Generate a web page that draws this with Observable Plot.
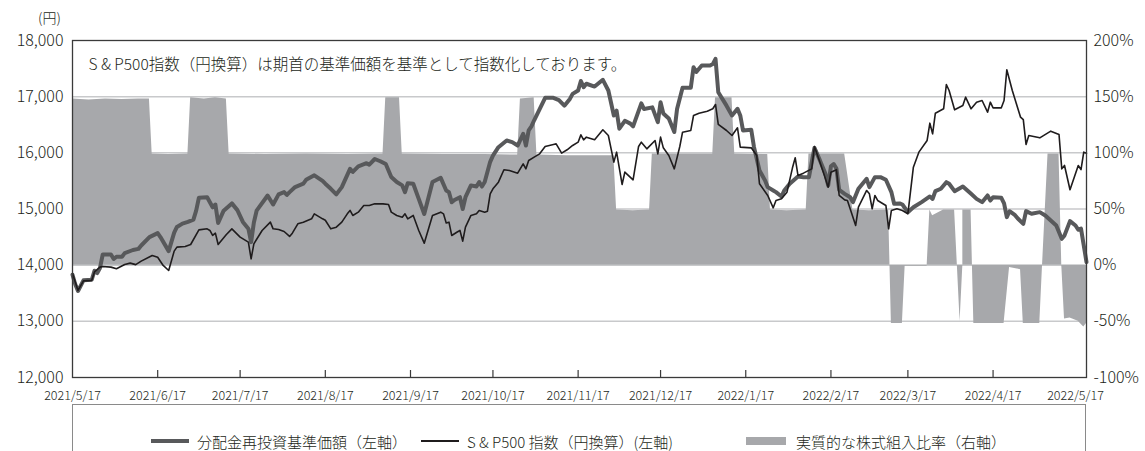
<!DOCTYPE html>
<html><head><meta charset="utf-8">
<script src="https://cdn.jsdelivr.net/npm/d3@7"></script>
<script src="https://cdn.jsdelivr.net/npm/@observablehq/plot@0.6"></script>
<style>
body{margin:0;background:#fff;font-family:"Noto Sans CJK JP","Noto Sans",sans-serif;color:#231f20;font-weight:300;}
#wrap{position:relative;width:1145px;height:451px;overflow:hidden;}
#chart{position:absolute;left:0;top:0;}
#legend{position:absolute;left:72px;top:404px;width:1014px;height:80px;border:1.5px solid #8a8a8a;box-sizing:border-box;background:#fff;}
.item{position:absolute;top:25px;height:22px;display:flex;align-items:center;font-size:15px;white-space:nowrap;}
.sw{display:inline-block;margin-right:8px;}
</style></head><body><div id="wrap"><div id="chart"></div><div id="legend"></div></div>
<script>
// 分配金再投資基準価額（左軸）
const nav = [
["2021-05-17",13830],["2021-05-18",13660],["2021-05-19",13540],["2021-05-21",13730],["2021-05-24",13740],["2021-05-25",13900],["2021-05-26",13860],["2021-05-27",13950],["2021-05-28",14190],["2021-05-31",14190],
["2021-06-01",14110],["2021-06-02",14150],["2021-06-04",14150],["2021-06-05",14215],["2021-06-08",14270],["2021-06-10",14290],["2021-06-11",14350],["2021-06-14",14500],["2021-06-17",14570],["2021-06-18",14500],["2021-06-21",14250],["2021-06-23",14580],["2021-06-24",14680],["2021-06-26",14740],["2021-06-28",14770],["2021-06-30",14810],
["2021-07-01",14970],["2021-07-02",15200],["2021-07-05",15210],["2021-07-07",15030],["2021-07-08",15080],["2021-07-09",14750],["2021-07-11",14970],["2021-07-14",15100],["2021-07-16",14980],["2021-07-18",14770],["2021-07-20",14650],["2021-07-21",14410],["2021-07-22",14760],["2021-07-23",14970],["2021-07-27",15240],["2021-07-29",15080],["2021-07-31",15260],
["2021-08-02",15300],["2021-08-03",15250],["2021-08-04",15300],["2021-08-06",15390],["2021-08-09",15450],["2021-08-10",15520],["2021-08-13",15600],["2021-08-16",15500],["2021-08-17",15450],["2021-08-19",15360],["2021-08-21",15260],["2021-08-23",15390],["2021-08-26",15715],["2021-08-27",15660],["2021-08-29",15760],
["2021-09-01",15815],["2021-09-02",15790],["2021-09-04",15890],["2021-09-06",15850],["2021-09-08",15800],["2021-09-10",15570],["2021-09-12",15480],["2021-09-14",15420],["2021-09-15",15300],["2021-09-16",15460],["2021-09-18",15450],["2021-09-20",15180],["2021-09-22",14910],["2021-09-25",15480],["2021-09-28",15555],["2021-09-30",15330],
["2021-10-01",15300],["2021-10-02",15120],["2021-10-03",15160],["2021-10-05",15210],["2021-10-06",15000],["2021-10-07",15210],["2021-10-09",15420],["2021-10-11",15400],["2021-10-12",15480],["2021-10-13",15400],["2021-10-14",15480],["2021-10-16",15840],["2021-10-17",15950],["2021-10-19",16100],["2021-10-22",16220],["2021-10-24",16190],["2021-10-26",16130],["2021-10-28",16340],["2021-10-29",16130],["2021-10-30",16400],["2021-10-31",16470],
["2021-11-01",16580],["2021-11-03",16780],["2021-11-05",16980],["2021-11-08",16980],["2021-11-10",16940],["2021-11-12",16840],["2021-11-14",16960],["2021-11-15",17050],["2021-11-17",17110],["2021-11-18",17280],["2021-11-19",17170],["2021-11-20",17230],["2021-11-23",17180],["2021-11-26",17300],["2021-11-28",17110],["2021-11-30",16665],
["2021-12-01",16750],["2021-12-02",16430],["2021-12-04",16570],["2021-12-06",16520],["2021-12-07",16470],["2021-12-10",16880],["2021-12-11",16780],["2021-12-14",16810],["2021-12-16",16546],["2021-12-17",16900],["2021-12-18",16700],["2021-12-20",16610],["2021-12-22",16370],["2021-12-23",16780],["2021-12-25",17157],["2021-12-28",17157],["2021-12-29",17525],["2021-12-30",17440],
["2022-01-01",17555],["2022-01-04",17555],["2022-01-05",17580],["2022-01-06",17674],["2022-01-07",17080],["2022-01-10",16840],["2022-01-12",16665],["2022-01-14",16784],["2022-01-15",16665],["2022-01-16",16398],["2022-01-19",16410],["2022-01-20",16101],["2022-01-22",15686],["2022-01-24",15510],["2022-01-25",15389],["2022-01-27",15330],["2022-01-28",15300],["2022-01-30",15223],["2022-01-31",15330],
["2022-02-02",15448],["2022-02-05",15579],["2022-02-07",15567],["2022-02-09",15567],["2022-02-11",16089],["2022-02-13",15865],["2022-02-15",15626],["2022-02-16",15419],["2022-02-17",15760],["2022-02-18",15800],["2022-02-19",15720],["2022-02-20",15340],["2022-02-22",15270],["2022-02-24",15210],["2022-02-25",15122],["2022-02-27",15360],
["2022-03-02",15537],["2022-03-03",15390],["2022-03-05",15567],["2022-03-07",15567],["2022-03-09",15520],["2022-03-11",15300],["2022-03-12",15092],["2022-03-14",15100],["2022-03-15",15080],["2022-03-17",14944],["2022-03-19",15030],["2022-03-22",15122],["2022-03-25",15223],["2022-03-26",15180],["2022-03-27",15318],["2022-03-29",15360],["2022-03-31",15478],
["2022-04-01",15450],["2022-04-03",15318],["2022-04-06",15401],["2022-04-09",15270],["2022-04-11",15180],["2022-04-13",15122],["2022-04-15",15241],["2022-04-16",15150],["2022-04-17",15210],["2022-04-20",15200],["2022-04-21",15100],["2022-04-22",14855],["2022-04-23",14960],["2022-04-25",14890],["2022-04-26",14830],["2022-04-28",14736],["2022-04-29",14962],
["2022-05-01",14915],["2022-05-04",14944],["2022-05-06",14885],["2022-05-08",14795],["2022-05-10",14707],["2022-05-12",14469],["2022-05-13",14530],["2022-05-15",14784],["2022-05-17",14707],["2022-05-18",14630],["2022-05-19",14650],["2022-05-21",14054]
];

// S&P500指数（円換算）（左軸）
const spx = [
["2021-05-17",13850],["2021-05-19",13550],["2021-05-21",13720],["2021-05-24",13730],["2021-05-25",13880],["2021-05-27",13965],["2021-05-28",13977],["2021-05-31",13965],
["2021-06-02",13935],["2021-06-05",14012],["2021-06-07",14036],["2021-06-09",14010],["2021-06-11",14072],["2021-06-15",14173],["2021-06-17",14140],["2021-06-19",13995],["2021-06-21",13905],["2021-06-23",14250],["2021-06-24",14321],["2021-06-27",14333],["2021-06-29",14368],
["2021-07-02",14629],["2021-07-05",14647],["2021-07-06",14618],["2021-07-07",14529],["2021-07-08",14570],["2021-07-09",14368],["2021-07-12",14546],["2021-07-14",14647],["2021-07-17",14500],["2021-07-20",14410],["2021-07-21",14113],["2021-07-22",14380],["2021-07-25",14618],["2021-07-28",14766],["2021-07-29",14647],["2021-07-31",14635],
["2021-08-02",14600],["2021-08-04",14511],["2021-08-05",14570],["2021-08-07",14736],["2021-08-09",14766],["2021-08-12",14825],["2021-08-13",14914],["2021-08-16",14825],["2021-08-17",14800],["2021-08-19",14647],["2021-08-21",14677],["2021-08-23",14766],["2021-08-25",14914],["2021-08-26",14974],["2021-08-27",14885],["2021-08-29",14944],["2021-08-31",15063],
["2021-09-02",15063],["2021-09-04",15092],["2021-09-07",15092],["2021-09-09",15080],["2021-09-10",14944],["2021-09-12",14885],["2021-09-14",14855],["2021-09-15",14914],["2021-09-16",14825],["2021-09-18",14885],["2021-09-20",14618],["2021-09-22",14392],["2021-09-25",14885],["2021-09-28",14944],["2021-09-29",14914],["2021-09-30",14750],
["2021-10-01",14766],["2021-10-02",14529],["2021-10-04",14590],["2021-10-05",14618],["2021-10-06",14428],["2021-10-07",14677],["2021-10-09",14885],["2021-10-11",14914],["2021-10-12",14974],["2021-10-14",14944],["2021-10-15",14960],["2021-10-16",15270],["2021-10-17",15359],["2021-10-19",15478],["2021-10-21",15698],["2021-10-23",15686],["2021-10-26",15638],["2021-10-28",15804],["2021-10-29",15715],["2021-10-30",15864],
["2021-11-01",15923],["2021-11-03",15982],["2021-11-05",16113],["2021-11-08",16149],["2021-11-09",16160],["2021-11-11",15994],["2021-11-13",16054],["2021-11-15",16131],["2021-11-17",16190],["2021-11-18",16320],["2021-11-19",16232],["2021-11-20",16279],["2021-11-23",16232],["2021-11-26",16410],["2021-11-28",16309],["2021-11-30",15834],
["2021-12-01",16012],["2021-12-03",15437],["2021-12-04",15656],["2021-12-07",15520],["2021-12-09",16113],["2021-12-10",16190],["2021-12-12",16071],["2021-12-15",16220],["2021-12-16",15982],["2021-12-17",16279],["2021-12-18",16089],["2021-12-20",15953],["2021-12-22",15715],["2021-12-24",16113],["2021-12-25",16368],["2021-12-28",16398],["2021-12-29",16665],["2021-12-31",16706],
["2022-01-03",16742],["2022-01-05",16784],["2022-01-06",16861],["2022-01-07",16505],["2022-01-10",16398],["2022-01-12",16309],["2022-01-14",16445],["2022-01-15",16101],["2022-01-19",16089],["2022-01-21",15953],["2022-01-22",15448],["2022-01-25",15241],["2022-01-27",15021],["2022-01-28",15152],["2022-01-30",15181],
["2022-02-01",15300],["2022-02-03",15733],["2022-02-04",15911],["2022-02-05",15597],["2022-02-07",15638],["2022-02-10",15715],["2022-02-11",16113],["2022-02-13",15834],["2022-02-15",15537],["2022-02-16",15389],["2022-02-17",15656],["2022-02-19",15700],["2022-02-20",15241],["2022-02-22",15163],["2022-02-23",15152],["2022-02-26",14707],["2022-02-27",15033],
["2022-03-02",15330],["2022-03-03",15270],["2022-03-04",15003],["2022-03-05",15241],["2022-03-06",15152],["2022-03-09",15063],["2022-03-10",14647],["2022-03-11",14974],["2022-03-13",15003],["2022-03-15",14974],["2022-03-17",14914],["2022-03-19",15745],["2022-03-21",16012],["2022-03-24",16220],["2022-03-25",16528],["2022-03-26",16338],["2022-03-27",16706],["2022-03-30",16784],["2022-03-31",17217],
["2022-04-01",17110],["2022-04-03",16766],["2022-04-06",16843],["2022-04-07",16991],["2022-04-09",16784],["2022-04-11",16902],["2022-04-13",16932],["2022-04-15",16724],["2022-04-16",16902],["2022-04-17",16801],["2022-04-20",16801],["2022-04-21",16932],["2022-04-22",17478],["2022-04-24",17110],["2022-04-27",16635],["2022-04-28",16590],["2022-04-29",16149],["2022-04-30",16309],
["2022-05-04",16267],["2022-05-08",16386],["2022-05-11",16327],["2022-05-12",15715],["2022-05-13",15775],["2022-05-15",15342],["2022-05-18",15775],["2022-05-19",15700],["2022-05-20",16012],["2022-05-21",15994]
];

// 実質的な株式組入比率（右軸, %）
const ratio = [
["2021-05-17",148],["2021-05-23",147],["2021-05-29",148],["2021-06-04",147.5],["2021-06-10",148],["2021-06-14",148],["2021-06-15",99],["2021-06-21",98.5],["2021-06-28",99],["2021-06-29",149],
["2021-07-04",148],["2021-07-08",149],["2021-07-12",148],["2021-07-13",99],["2021-07-26",98.5],["2021-08-10",99],["2021-08-25",98.5],["2021-09-07",99],["2021-09-08",149],["2021-09-13",149],["2021-09-14",99],
["2021-09-29",98.5],["2021-10-14",98.5],["2021-10-26",98],["2021-10-27",148],["2021-11-01",149],["2021-11-02",98],["2021-11-13",97.5],["2021-11-30",97.5],["2021-12-01",49],["2021-12-07",48.5],["2021-12-13",49],["2021-12-14",99],
["2021-12-25",99],["2022-01-05",99],["2022-01-06",149],["2022-01-12",149],["2022-01-13",99],["2022-01-25",98.5],["2022-01-26",49],["2022-02-01",48.5],["2022-02-08",49],["2022-02-09",99],["2022-02-16",99],["2022-02-22",99],
["2022-02-25",49],["2022-03-03",48.5],["2022-03-10",49],["2022-03-11",-52],["2022-03-15",-52],["2022-03-16",-1],["2022-03-24",-1],["2022-03-25",49],["2022-03-26",44],["2022-03-30",49],["2022-04-03",49],
["2022-04-04",0],["2022-04-05",-50],["2022-04-06",0],["2022-04-06",49],["2022-04-09",49],["2022-04-10",-52],["2022-04-21",-52],["2022-04-23",-2],["2022-04-27",-4],["2022-04-28",-52],["2022-05-04",-52],
["2022-05-05",0],["2022-05-07",99],["2022-05-11",99],["2022-05-12",0],["2022-05-13",-48],["2022-05-15",-47],["2022-05-18",-50],["2022-05-20",-55],["2022-05-21",-52]
];

const xDomain = ["2021-05-17", "2022-05-21"];
const xLabelDates = ["2021-05-17","2021-06-17","2021-07-17","2021-08-17","2021-09-17","2021-10-17","2021-11-17","2021-12-17","2022-01-17","2022-02-17","2022-03-17","2022-04-17","2022-05-17"];
const xLabels = ["2021/5/17","2021/6/17","2021/7/17","2021/8/17","2021/9/17","2021/10/17","2021/11/17","2021/12/17","2022/1/17","2022/2/17","2022/3/17","2022/4/17","2022/5/17"];
const xTickDates = xLabelDates.slice(1, -1);
const yTicks = [12000, 13000, 14000, 15000, 16000, 17000, 18000];
const leftTickLabels = ["12,000","13,000","14,000","15,000","16,000","17,000","18,000"];
const rightTickLabels = ["-100%","-50%","0%","50%","100%","150%","200%"];
const gridTicks = [13000, 14000, 15000, 16000, 17000];
const yUnit = "(円)";
const note = "S & P500指数（円換算）は期首の基準価額を基準として指数化しております。";
const legendItems = [
  {label: "分配金再投資基準価額（左軸）", kind: "thick"},
  {label: "S & P500 指数（円換算）(左軸)", kind: "thin"},
  {label: "実質的な株式組入比率（右軸）", kind: "area"}
];

const parse = d3.utcParse("%Y-%m-%d");
const navData = nav.map(([d, v]) => ({date: parse(d), value: v}));
const spxData = spx.map(([d, v]) => ({date: parse(d), value: v}));
// 0% on the right axis aligns with 14,000 on the left; 100% = 2,000 yen
const ratioData = ratio.map(([d, p]) => ({date: parse(d), pct: p, y: 14000 + p * 20}));
const labelDates = xLabelDates.map(parse);
const tickDates = xTickDates.map(parse);

const COL_THICK = "#58595b", COL_THIN = "#1f1c1d", COL_AREA = "#a7a8ab";

const chart = Plot.plot({
  width: 1145,
  height: 412,
  marginTop: 40,
  marginBottom: 35,
  marginLeft: 72,
  marginRight: 59,
  style: {fontFamily: '"Noto Sans CJK JP","Noto Sans",sans-serif', color: "#231f20", background: "#fff", fontWeight: 300},
  x: {type: "utc", domain: xDomain.map(parse)},
  y: {domain: [12000, 18000]},
  marks: [
    Plot.ruleY(gridTicks, {y: d => d, stroke: "#c8c9cb", strokeWidth: 1.5}),
    Plot.areaY(ratioData, {x: "date", y1: 14000, y2: "y", fill: COL_AREA, curve: "linear"}),
    Plot.line(navData, {x: "date", y: "value", stroke: COL_THICK, strokeWidth: 4, strokeLinejoin: "round"}),
    Plot.line(spxData, {x: "date", y: "value", stroke: COL_THIN, strokeWidth: 1.6, strokeLinejoin: "round"}),
    Plot.frame({stroke: "#3a3a3a", strokeWidth: 1.3}),
    Plot.tickX(tickDates, {x: d => d, stroke: "#3a3a3a", strokeWidth: 1.2, insetTop: 330}),
    Plot.axisY({anchor: "left", ticks: yTicks, tickSize: 0, tickPadding: 9, fontSize: 16,
      tickFormat: v => leftTickLabels[yTicks.indexOf(v)], label: null}),
    Plot.axisY({anchor: "right", ticks: yTicks, tickSize: 0, tickPadding: 7, fontSize: 16,
      tickFormat: v => rightTickLabels[yTicks.indexOf(v)], label: null}),
    Plot.axisX({ticks: labelDates, tickSize: 0, tickPadding: 14, fontSize: 12.5,
      tickFormat: d => xLabels[labelDates.findIndex(t => +t === +d)], label: null}),
    Plot.text([yUnit], {text: d => d, frameAnchor: "top-left", dx: -23, dy: -27, textAnchor: "middle", fontSize: 14, fill: "#231f20"}),
    Plot.text([note], {text: d => d, frameAnchor: "top-left", dx: 16, dy: 18, textAnchor: "start", fontSize: 15.5, fill: "#231f20"})
  ]
});
document.getElementById("chart").appendChild(chart);

const legend = document.getElementById("legend");
const lefts = [78, 348, 673];
legendItems.forEach((it, i) => {
  const div = document.createElement("div");
  div.className = "item";
  div.style.left = lefts[i] + "px";
  const sw = document.createElement("span");
  sw.className = "sw";
  if (it.kind === "thick") { sw.style.width = "38px"; sw.style.height = "4px"; sw.style.background = COL_THICK; }
  else if (it.kind === "thin") { sw.style.width = "38px"; sw.style.height = "1.6px"; sw.style.background = COL_THIN; }
  else { sw.style.width = "40px"; sw.style.height = "8px"; sw.style.background = COL_AREA; sw.style.marginRight = "10px"; }
  const tx = document.createElement("span");
  tx.textContent = it.label;
  div.appendChild(sw); div.appendChild(tx);
  legend.appendChild(div);
});
</script></body></html>
